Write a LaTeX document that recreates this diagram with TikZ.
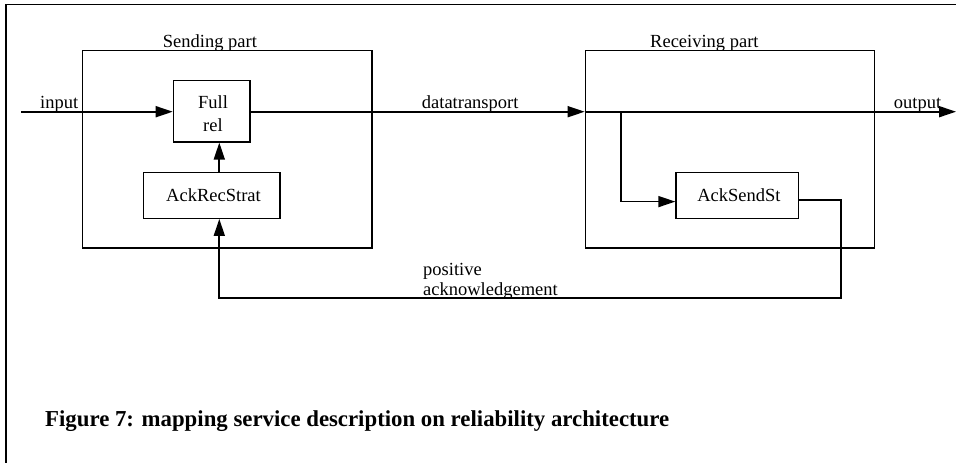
\documentclass[tikz,border=0pt]{standalone}
\usepackage{fontspec}
\setmainfont{Liberation Serif}
\usetikzlibrary{arrows.meta,calc}
\begin{document}
\begin{tikzpicture}[x=1pt,y=-1pt,
  every node/.style={font=\fontsize{18.5}{23}\selectfont},
  part/.style={draw,line width=1.3pt,inner sep=0pt},
  block/.style={draw,line width=1.3pt,inner sep=0pt,align=center},
  wire/.style={line width=1.7pt},
  flow/.style={wire,-{Triangle[length=17pt,width=11pt]}},
  lbl/.style={inner sep=0pt,anchor=base west}]
\useasboundingbox (0,0) rectangle (956,463);
% page frame (left and top edges only)
\draw[line width=1.7pt] (6,463) -- (6,4.5) -- (956,4.5);

% the two parts
\node[part,minimum width=289.3pt,minimum height=197.3pt] (send) at (227.3,149.3) {};
\node[part,minimum width=289.4pt,minimum height=197.3pt] (recv) at (730,149.3) {};
\node[lbl] (sendlbl) at (162.7,47.7) {Sending part};
\node[lbl] (recvlbl) at (650,47.7) {Receiving part};

% inner blocks
\node[block,minimum width=76.7pt,minimum height=61.3pt] (full) at (211.7,111.3) {};
\node[inner sep=0pt,anchor=base,align=center] (fulltxt) at (213,131) {Full\\rel};
\node[block,minimum width=136.7pt,minimum height=46pt] (ackrec) at (211.7,195.3) {};
\node[inner sep=0pt,anchor=base] (ackrectxt) at (213.5,201) {AckRecStrat};
\node[block,minimum width=122.7pt,minimum height=46pt] (acksend) at (737.3,195.3) {};
\node[inner sep=0pt,anchor=base] (acksendtxt) at (739,201) {AckSendSt};

% free ends
\coordinate (in) at (21,111.7);
\coordinate (out) at (956,111.7);
\coordinate (split) at (621.3,111.7);
\coordinate (fbR) at (841,298);
\coordinate (fbL) at (219.3,298);

% data path
\draw[flow] (in) -- (full.west |- in);
\draw[flow] (full.east |- in) -- (recv.west |- in);
\draw[flow] (recv.west |- in) -- (out);
\draw[flow] (split) |- ($(acksend.west)+(0,6.3)$);
\draw[flow] (ackrec.north -| fbL) -- (full.south -| fbL);

% acknowledgement loop
\draw[flow] ($(acksend.east)+(0,4.7)$) -| (fbR) -- (fbL) -- (ackrec.south -| fbL);

% labels
\node[lbl] (inlbl) at (40,108) {input};
\node[lbl] (dtlbl) at (421.7,108) {datatransport};
\node[lbl] (outlbl) at (893.7,108) {output};
\node[lbl] (pos) at (423,275) {positive};
\node[lbl] (ackn) at (423,295) {acknowledgement};

% caption
\node[lbl,font=\fontsize{22.8}{27}\selectfont\bfseries] (cap) at (45,426)
  {Figure 7: mapping service description on reliability architecture};
\end{tikzpicture}
\end{document}
